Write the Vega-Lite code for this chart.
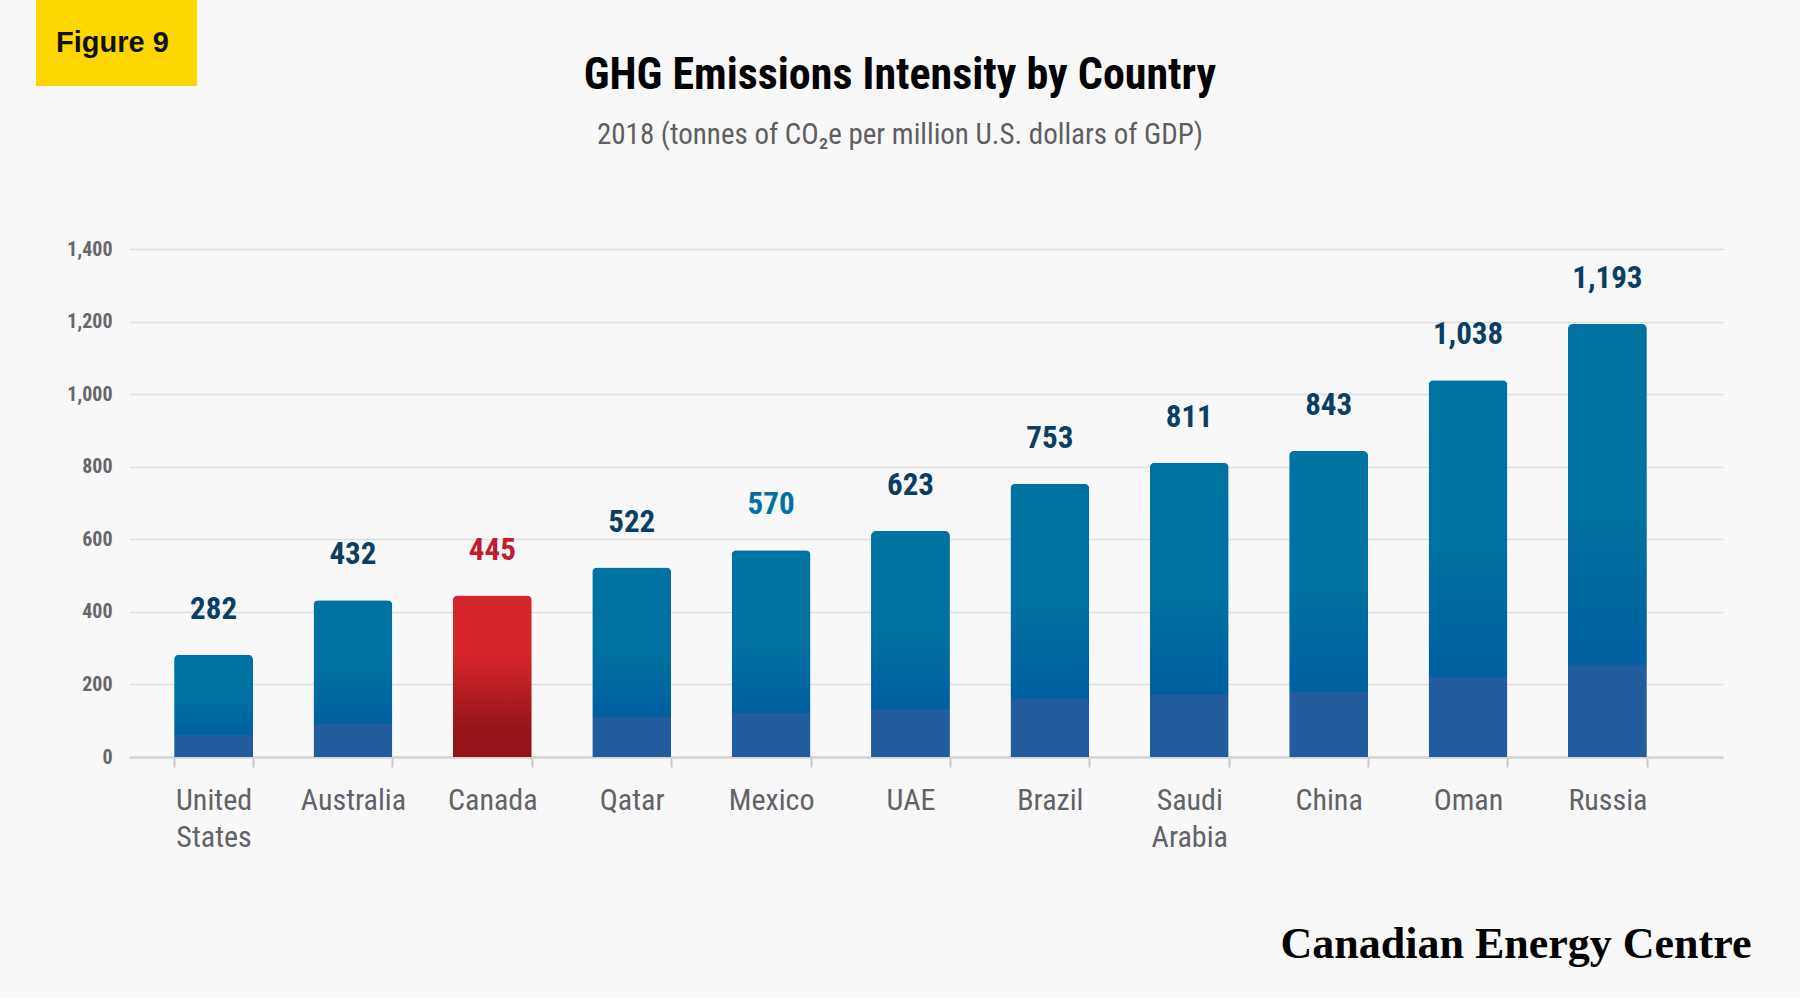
{
  "$schema": "https://vega.github.io/schema/vega-lite/v6.json",
  "background": "#F8F8F8",
  "padding": {"left": 36, "top": 0, "right": 49, "bottom": 31},
  "width": 1594,
  "height": 508,
  "title": {
    "text": "GHG Emissions Intensity by Country",
    "subtitle": "2018 (tonnes of CO₂e per million U.S. dollars of GDP)",
    "anchor": "middle",
    "dx": -26,
    "dy": 246,
    "offset": 96,
    "font": "Roboto Condensed",
    "fontWeight": "bold",
    "fontSize": 44,
    "color": "#000000",
    "subtitleFont": "Roboto Condensed",
    "subtitleFontWeight": "normal",
    "subtitleFontSize": 29,
    "subtitleColor": "#5E5E62",
    "subtitlePadding": 23
  },
  "data": {
    "values": [
      {"country": "United States", "value": 282},
      {"country": "Australia", "value": 432},
      {"country": "Canada", "value": 445},
      {"country": "Qatar", "value": 522},
      {"country": "Mexico", "value": 570},
      {"country": "UAE", "value": 623},
      {"country": "Brazil", "value": 753},
      {"country": "Saudi Arabia", "value": 811},
      {"country": "China", "value": 843},
      {"country": "Oman", "value": 1038},
      {"country": "Russia", "value": 1193}
    ]
  },
  "encoding": {
    "x": {
      "field": "country",
      "type": "nominal",
      "sort": null,
      "scale": {"paddingInner": 0.434, "paddingOuter": 0.435, "align": 0.372},
      "axis": {
        "title": "Canadian Energy Centre",
        "titleFont": "Liberation Serif",
        "titleFontWeight": "bold",
        "titleFontSize": 44,
        "titleColor": "#000000",
        "titleAlign": "right",
        "titleX": 1622,
        "titlePadding": 70,
        "labelAngle": 0,
        "labelExpr": "split(datum.label, ' ')",
        "labelFont": "Roboto Condensed",
        "labelFontSize": 30,
        "labelColor": "#606268",
        "labelLineHeight": 37,
        "labelPadding": 18,
        "tickBand": "extent",
        "tickColor": "#C8C8C8",
        "tickWidth": 2,
        "tickSize": 10,
        "domainColor": "#D4D4D4",
        "domainWidth": 2.5,
        "grid": false
      }
    },
    "y": {
      "field": "value",
      "type": "quantitative",
      "scale": {"domain": [0, 1400], "nice": false},
      "axis": {
        "title": null,
        "values": [0, 200, 400, 600, 800, 1000, 1200, 1400],
        "format": ",d",
        "labelFont": "Roboto Condensed",
        "labelFontWeight": "bold",
        "labelFontSize": 20,
        "labelColor": "#66666B",
        "labelPadding": 17,
        "ticks": false,
        "domain": false,
        "grid": true,
        "gridColor": "#DEDEDE",
        "gridWidth": 1.5,
        "minExtent": 93,
        "maxExtent": 93
      }
    }
  },
  "layer": [
    {
      "mark": {"type": "bar", "cornerRadiusTopLeft": 5, "cornerRadiusTopRight": 5},
      "encoding": {
        "color": {
          "condition": {
            "test": "datum.country === 'Canada'",
            "value": {
              "gradient": "linear",
              "x1": 0, "y1": 0, "x2": 0, "y2": 1,
              "stops": [
                {"offset": 0, "color": "#D4252B"},
                {"offset": 0.37, "color": "#D4252B"},
                {"offset": 0.83, "color": "#961419"},
                {"offset": 1, "color": "#961419"}
              ]
            }
          },
          "value": {
            "gradient": "linear",
            "x1": 0, "y1": 0, "x2": 0, "y2": 1,
            "stops": [
              {"offset": 0, "color": "#0072A0"},
              {"offset": 0.45, "color": "#0071A0"},
              {"offset": 0.785, "color": "#005FA0"},
              {"offset": 0.79, "color": "#225C9C"},
              {"offset": 1, "color": "#225C9C"}
            ]
          }
        }
      }
    },
    {
      "mark": {
        "type": "text",
        "baseline": "alphabetic",
        "dy": -36,
        "font": "Roboto Condensed",
        "fontWeight": "bold",
        "fontSize": 31
      },
      "encoding": {
        "text": {"field": "value", "type": "quantitative", "format": ","},
        "color": {
          "condition": [
            {"test": "datum.country === 'Canada'", "value": "#BE1E2D"},
            {"test": "datum.country === 'Mexico'", "value": "#0071A3"}
          ],
          "value": "#0C3E64"
        }
      }
    },
    {
      "mark": {"type": "point", "opacity": 0},
      "encoding": {
        "color": {
          "datum": "Figure 9",
          "scale": {"range": ["#FFD700"]},
          "legend": {
            "title": null,
            "orient": "none",
            "legendX": -93,
            "legendY": -249,
            "fillColor": "#FFD700",
            "padding": 28,
            "symbolSize": 0,
            "symbolOpacity": 0,
            "symbolStrokeWidth": 0,
            "labelOffset": -37,
            "labelFont": "Liberation Sans",
            "labelFontWeight": "bold",
            "labelFontSize": 29,
            "labelColor": "#111111"
          }
        }
      }
    }
  ],
  "config": {
    "view": {"stroke": null}
  }
}
